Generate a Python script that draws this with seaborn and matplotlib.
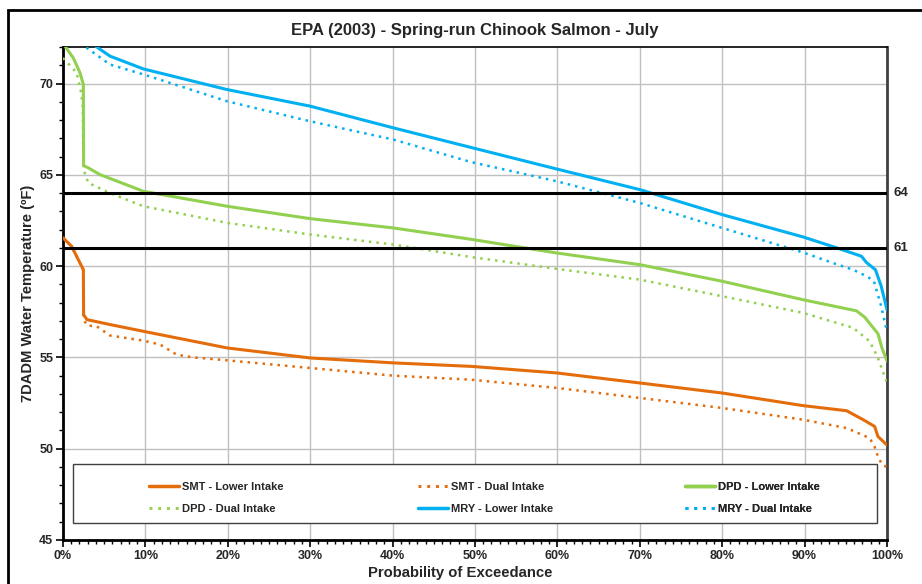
import matplotlib
matplotlib.use("Agg")
import matplotlib.pyplot as plt
from matplotlib.lines import Line2D
from matplotlib.patches import Rectangle
from matplotlib.ticker import MultipleLocator, FuncFormatter
import matplotlib.transforms as mtransforms
import seaborn as sns
import pandas as pd

# ---------------- data ----------------
smt_lower_x = [0, 1.05, 2.06, 2.47, 2.5, 2.9, 5.7, 9.75, 19.9, 30, 40.1, 49.5, 59.9, 70, 80, 89.8, 95.1, 97.1, 98.5, 98.9, 100]
smt_lower_y = [61.55, 61.08, 60.17, 59.8, 57.34, 57.07, 56.8, 56.43, 55.52, 54.97, 54.7, 54.51, 54.15, 53.6, 53.05, 52.36, 52.08, 51.59, 51.22, 50.67, 50.2]

smt_dual_x = [0, 1.05, 2.06, 2.47, 2.5, 2.9, 4.1, 5.7, 9.75, 11.8, 13.8, 15.8, 19.9, 30, 40.1, 49.5, 59.9, 70, 80, 89.8, 95.1, 97.9, 98.5, 98.9, 99.4, 100]
smt_dual_y = [61.55, 61.08, 60.17, 59.8, 57.1, 56.75, 56.7, 56.2, 55.92, 55.7, 55.15, 55.0, 54.84, 54.42, 54.0, 53.78, 53.33, 52.78, 52.23, 51.59, 51.13, 50.58, 50.1, 49.58, 49.12, 49.0]

dpd_lower_x = [0, 1.25, 2.06, 2.47, 2.5, 3.07, 4.5, 9.75, 19.9, 30, 40.1, 49.5, 59.9, 70, 80, 89.8, 96.3, 97.3, 98.9, 99.4, 100]
dpd_lower_y = [72.2, 71.4, 70.59, 69.95, 65.5, 65.38, 65.01, 64.1, 63.28, 62.6, 62.09, 61.47, 60.72, 60.08, 59.17, 58.16, 57.55, 57.2, 56.3, 55.5, 54.8]

dpd_dual_x = [0, 1.66, 2.2, 2.4, 2.47, 3.07, 5.7, 9.75, 19.9, 30, 40.1, 49.5, 59.9, 70, 80, 89.8, 95.9, 97.9, 98.9, 100]
dpd_dual_y = [71.4, 70.59, 69.5, 68.76, 65.3, 64.56, 64.0, 63.28, 62.37, 61.73, 61.18, 60.5, 59.85, 59.26, 58.35, 57.44, 56.62, 55.88, 54.97, 53.6]

mry_lower_x = [0, 2, 4.1, 5.7, 9.75, 19.9, 30, 40.1, 49.5, 59.9, 70, 80, 89.8, 93.9, 96.9, 97.5, 98.6, 99.3, 100]
mry_lower_y = [73.6, 72.7, 72.0, 71.5, 70.8, 69.67, 68.76, 67.57, 66.5, 65.32, 64.19, 62.82, 61.6, 61.0, 60.54, 60.2, 59.8, 58.9, 57.6]

mry_dual_x = [0, 2.9, 5.7, 9.75, 19.9, 30, 40.1, 49.5, 59.9, 70, 80, 89.8, 93.9, 95.9, 97.5, 98.4, 99.3, 100]
mry_dual_y = [73.0, 71.95, 71.04, 70.5, 69.03, 67.93, 66.93, 65.7, 64.65, 63.46, 62.09, 60.75, 60.1, 59.8, 59.45, 59.2, 57.8, 56.4]

thresholds = [64, 61]
series_names = ["SMT - Lower Intake", "SMT - Dual Intake", "DPD - Lower Intake",
                "DPD - Dual Intake", "MRY - Lower Intake", "MRY - Dual Intake"]
title = "EPA (2003) - Spring-run Chinook Salmon - July"
xlabel = "Probability of Exceedance"
ylabel = "7DADM Water Temperature (ºF)"

# ---------------- style ----------------
sns.set_style("white")
plt.rcParams["font.family"] = ["Liberation Sans", "DejaVu Sans"]
plt.rcParams["font.weight"] = "bold"

ORANGE = "#E46C0A"
GREEN = "#92D050"
BLUE = "#00B0F0"
DOT = (0, (1.0, 2.0))

series = [
    (smt_lower_x, smt_lower_y, ORANGE, "-"),
    (smt_dual_x, smt_dual_y, ORANGE, DOT),
    (dpd_lower_x, dpd_lower_y, GREEN, "-"),
    (dpd_dual_x, dpd_dual_y, GREEN, DOT),
    (mry_lower_x, mry_lower_y, BLUE, "-"),
    (mry_dual_x, mry_dual_y, BLUE, DOT),
]

fig = plt.figure(figsize=(9.22, 5.84), dpi=100)
ax = fig.add_axes([63 / 922, 1 - 540 / 584, 824 / 922, 493 / 584])

handles = []
for (xs, ys, c, ls), name in zip(series, series_names):
    df = pd.DataFrame({"p": xs, "t": ys})
    lw = 2.2 if ls == "-" else 1.8
    sns.lineplot(data=df, x="p", y="t", ax=ax, color=c, lw=lw, linestyle=ls,
                 estimator=None, sort=False, legend=False, zorder=3)
    handles.append(Line2D([], [], color=c, lw=lw + 0.3, linestyle=ls))

for t in thresholds:
    ax.axhline(t, color="black", lw=2.2, zorder=3.5)
    trans = mtransforms.blended_transform_factory(ax.transAxes, ax.transData)
    ax.text(1.008, t, str(t), transform=trans, ha="left", va="center",
            fontsize=9.5, fontweight="bold")

ax.set_xlim(0, 100)
ax.set_ylim(45, 72)
ax.xaxis.set_major_locator(MultipleLocator(10))
ax.xaxis.set_minor_locator(MultipleLocator(1))
ax.yaxis.set_major_locator(MultipleLocator(5))
ax.yaxis.set_minor_locator(MultipleLocator(1))
ax.xaxis.set_major_formatter(FuncFormatter(lambda v, p: f"{int(round(v))}%"))
ax.grid(True, which="major", color="#BFBFBF", lw=1)
ax.set_axisbelow(True)

ax.tick_params(axis="both", which="major", direction="out", length=5, width=1.2,
               labelsize=9, pad=2, color="black")
ax.tick_params(axis="both", which="minor", direction="out", length=3, width=1.0, color="black")
ax.tick_params(axis="y", which="both", right=False, left=True)
ax.tick_params(axis="x", which="both", bottom=True, top=False)
for lab in ax.get_xticklabels() + ax.get_yticklabels():
    lab.set_fontweight("bold")

for side, lw, col in [("left", 2.0, "black"), ("bottom", 2.0, "black"),
                      ("top", 1.2, "black"), ("right", 2.0, "#404040")]:
    ax.spines[side].set_visible(True)
    ax.spines[side].set_linewidth(lw)
    ax.spines[side].set_color(col)

ax.set_title(title, fontsize=12, fontweight="bold", pad=9)
ax.set_xlabel(xlabel, fontsize=10.7, fontweight="bold", labelpad=2)
ax.xaxis.set_label_coords(0.482, -0.052)
ax.set_ylabel(ylabel, fontsize=10.6, fontweight="bold", labelpad=3)

# legend box
box = Rectangle((0.012, 0.0345), 0.976, 0.12, transform=ax.transAxes,
                facecolor="white", edgecolor="#404040", lw=1.0, zorder=4)
ax.add_patch(box)
col_x = [0.1044, 0.4308, 0.7549]
order = [(0, 3), (1, 4), (2, 5)]
for cx, (i, j) in zip(col_x, order):
    leg = ax.legend([handles[i], handles[j]], [series_names[i], series_names[j]],
                    loc="upper left", bbox_to_anchor=(cx, 0.117), bbox_transform=ax.transAxes,
                    frameon=False, borderpad=0, borderaxespad=0, handlelength=2.7,
                    handletextpad=0.25, labelspacing=1.05,
                    prop={"size": 8, "weight": "bold"})
    leg.set_zorder(5)
    ax.add_artist(leg)

# outer frame
fig.patches.append(Rectangle((8 / 922, -0.05), 1.2, 1 - 10 / 584 + 0.05,
                             transform=fig.transFigure, fill=False, lw=2,
                             edgecolor="black"))

fig.savefig("out.png", dpi=100)
